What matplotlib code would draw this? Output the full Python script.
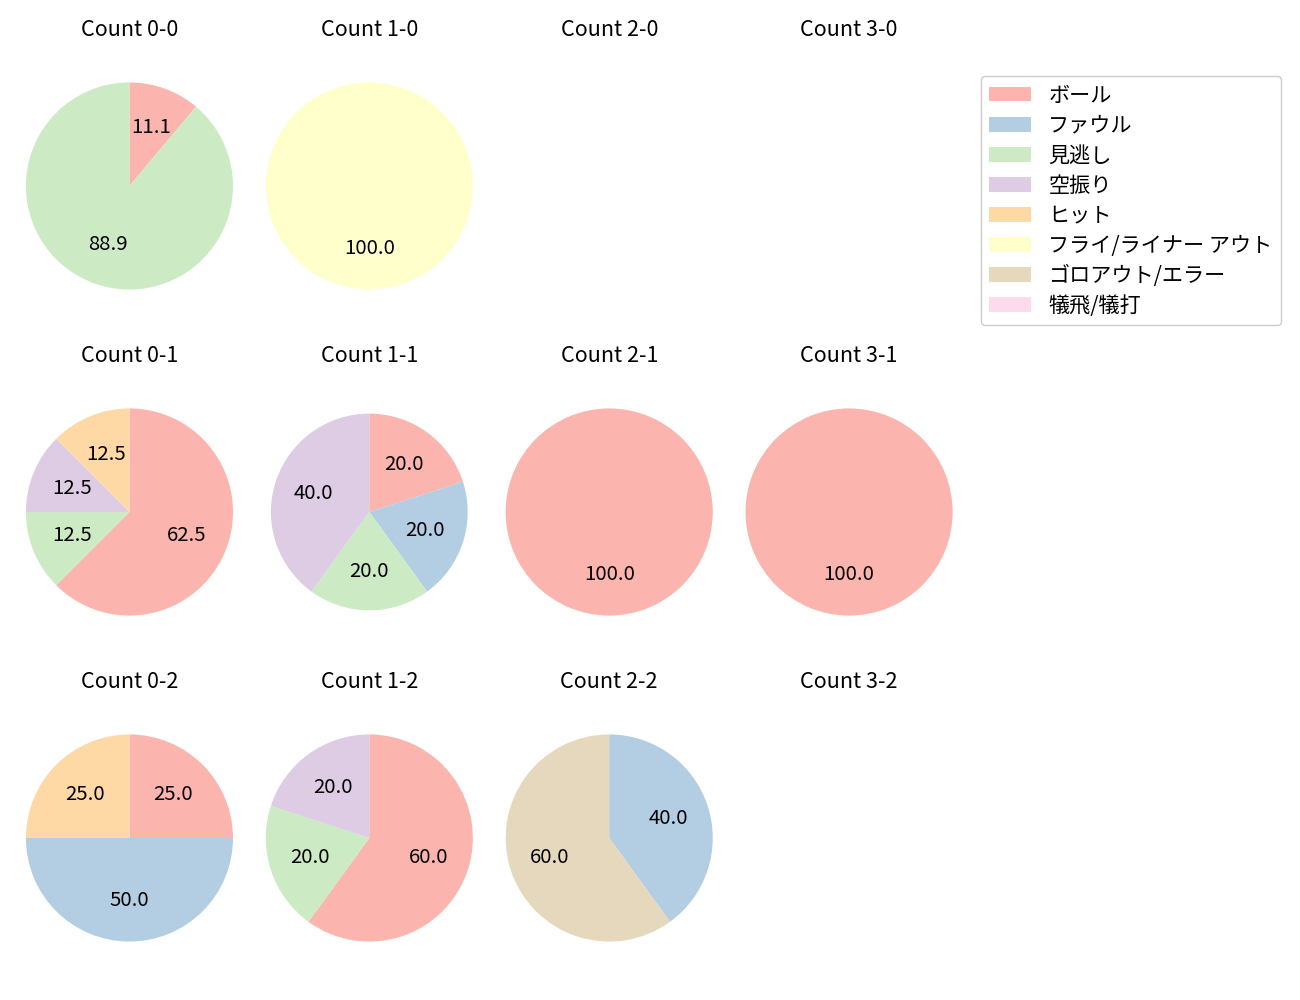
import matplotlib.pyplot as plt
from matplotlib.patches import Patch

plt.rcParams['font.family'] = ['Noto Sans CJK JP', 'DejaVu Sans']

categories = ["ボール", "ファウル", "見逃し", "空振り", "ヒット",
              "フライ/ライナー アウト", "ゴロアウト/エラー", "犠飛/犠打"]
colors = ["#fbb4ae", "#b3cde3", "#ccebc5", "#decbe4", "#fed9a6",
          "#ffffcc", "#e5d8bd", "#fddaec"]

# pitch result counts per ball-strike count (same order as categories)
count_0_0 = [1, 0, 8, 0, 0, 0, 0, 0]
count_1_0 = [0, 0, 0, 0, 0, 1, 0, 0]
count_2_0 = [0, 0, 0, 0, 0, 0, 0, 0]
count_3_0 = [0, 0, 0, 0, 0, 0, 0, 0]
count_0_1 = [5, 0, 1, 1, 1, 0, 0, 0]
count_1_1 = [1, 1, 1, 2, 0, 0, 0, 0]
count_2_1 = [1, 0, 0, 0, 0, 0, 0, 0]
count_3_1 = [1, 0, 0, 0, 0, 0, 0, 0]
count_0_2 = [1, 2, 0, 0, 1, 0, 0, 0]
count_1_2 = [3, 0, 1, 1, 0, 0, 0, 0]
count_2_2 = [0, 2, 0, 0, 0, 0, 3, 0]
count_3_2 = [0, 0, 0, 0, 0, 0, 0, 0]

grid = [
    [("Count 0-0", count_0_0), ("Count 1-0", count_1_0), ("Count 2-0", count_2_0), ("Count 3-0", count_3_0)],
    [("Count 0-1", count_0_1), ("Count 1-1", count_1_1), ("Count 2-1", count_2_1), ("Count 3-1", count_3_1)],
    [("Count 0-2", count_0_2), ("Count 1-2", count_1_2), ("Count 2-2", count_2_2), ("Count 3-2", count_3_2)],
]

fig, axes = plt.subplots(3, 4, figsize=(13, 10), dpi=100)
fig.subplots_adjust(left=0.0, right=0.7527, top=0.9435, bottom=0.0325,
                    wspace=-0.0734, hspace=0.2587)

for r, row in enumerate(grid):
    for c, (title, vals) in enumerate(row):
        ax = axes[r][c]
        ax.set_title(title, fontsize=15.5, pad=14.5)
        idx = [i for i, v in enumerate(vals) if v > 0]
        if not idx:
            ax.axis("off")
            continue
        radius = 0.95 if title == "Count 1-1" else 1.0
        ax.pie([vals[i] for i in idx], colors=[colors[i] for i in idx],
               startangle=90, counterclock=False, autopct="%1.1f",
               radius=radius, textprops={"fontsize": 14.7})
        ax.set_xlim(-1.25, 1.25)
        ax.set_ylim(-1.25, 1.25)

handles = [Patch(facecolor=col, label=lab) for col, lab in zip(colors, categories)]
fig.legend(handles=handles, loc="upper left", bbox_to_anchor=(0.7463, 0.9345),
           fontsize=15.2, labelspacing=0.38, framealpha=1)

fig.savefig("out.png")
